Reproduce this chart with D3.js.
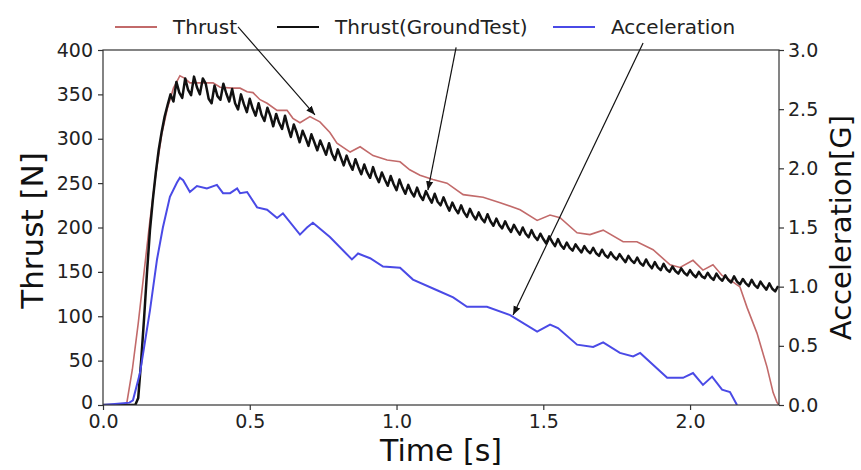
<!DOCTYPE html>
<html>
<head>
<meta charset="utf-8">
<script src="https://d3js.org/d3.v7.min.js"></script>
<style>
  body { margin: 0; background: #fff; }
  svg { font-family: "DejaVu Sans", sans-serif; }
</style>
</head>
<body>
<svg id="chart" width="861" height="470"></svg>
<script>
// Thrust from the simulation: [time s, thrust N]
var thrustSim = [
  [0, 0], [0.08, 0], [0.10, 40], [0.12, 92], [0.14, 150], [0.16, 208], [0.18, 260],
  [0.20, 305], [0.22, 335], [0.24, 357], [0.262, 371], [0.279, 368], [0.296, 363],
  [0.33, 363], [0.375, 363], [0.399, 358], [0.443, 357], [0.467, 357], [0.491, 353],
  [0.511, 352], [0.535, 344], [0.559, 340], [0.593, 332], [0.627, 332], [0.647, 323],
  [0.671, 318], [0.705, 325], [0.739, 319], [0.773, 307], [0.797, 295], [0.842, 285],
  [0.876, 291], [0.92, 281], [0.968, 276], [1.012, 274], [1.045, 265], [1.08, 259],
  [1.124, 254], [1.172, 250], [1.227, 237], [1.295, 234], [1.353, 228], [1.421, 220],
  [1.479, 208], [1.523, 214], [1.557, 211], [1.615, 194], [1.659, 192], [1.704, 197],
  [1.772, 184], [1.819, 184], [1.874, 175], [1.932, 158], [1.966, 155], [2.01, 163],
  [2.044, 152], [2.078, 158], [2.109, 146], [2.136, 141], [2.17, 133], [2.194, 110],
  [2.228, 81], [2.262, 43], [2.283, 14], [2.296, 3], [2.303, 0]
];

// Ground test thrust, one sample every 0.01 s starting at 0 s [N]
var groundStep = 0.01;
var thrustGround = [
  0, 0, 0, 0, 0, 0, 0, 0, 0, 0,
  0, 0, 8, 50, 98, 150, 197, 232, 262, 288,
  308, 325, 338, 350, 342, 364, 352, 346, 368, 355,
  349, 370, 358, 350, 368, 362, 345, 340, 360, 348,
  344, 362, 351, 342, 356, 340, 333, 350, 339, 330,
  345, 334, 326, 340, 327, 320, 335, 326, 314, 328,
  318, 311, 326, 313, 302, 316, 307, 296, 309, 301,
  292, 305, 296, 287, 298, 290, 282, 295, 283, 276,
  288, 279, 270, 281, 272, 265, 277, 268, 260, 271,
  262, 256, 268, 258, 251, 262, 254, 247, 258, 249,
  242, 254, 245, 238, 248, 240, 235, 245, 236, 231,
  241, 234, 228, 238, 229, 225, 234, 226, 219, 228,
  221, 216, 225, 217, 212, 221, 214, 209, 217, 210,
  206, 215, 207, 202, 210, 203, 199, 207, 200, 195,
  203, 197, 192, 200, 193, 189, 197, 190, 186, 193,
  187, 182, 190, 184, 179, 187, 180, 176, 183, 177,
  174, 181, 176, 172, 179, 174, 171, 177, 171, 168,
  175, 169, 166, 172, 167, 164, 170, 165, 161, 168,
  163, 160, 166, 160, 157, 164, 158, 154, 161, 155,
  152, 159, 153, 150, 156, 151, 148, 154, 149, 146,
  152, 147, 144, 150, 145, 143, 149, 144, 141, 148,
  143, 140, 146, 141, 138, 145, 139, 136, 142, 137,
  134, 141, 135, 132, 139, 134, 130, 137, 131, 128,
  134
];

// Acceleration: [time s, acceleration G]
var acceleration = [
  [0, 0], [0.05, 0.01], [0.09, 0.02], [0.102, 0.04], [0.126, 0.27], [0.16, 0.80],
  [0.184, 1.23], [0.204, 1.50], [0.228, 1.76], [0.252, 1.88], [0.262, 1.92], [0.273, 1.90],
  [0.296, 1.80], [0.32, 1.85], [0.354, 1.83], [0.388, 1.86], [0.409, 1.79], [0.433, 1.79],
  [0.457, 1.83], [0.467, 1.79], [0.491, 1.80], [0.525, 1.67], [0.559, 1.65], [0.593, 1.58],
  [0.613, 1.62], [0.671, 1.44], [0.695, 1.50], [0.715, 1.54], [0.773, 1.42], [0.848, 1.23],
  [0.869, 1.28], [0.91, 1.24], [0.954, 1.17], [1.012, 1.16], [1.056, 1.06], [1.138, 0.97],
  [1.193, 0.91], [1.24, 0.83], [1.308, 0.83], [1.387, 0.76], [1.479, 0.62], [1.523, 0.68],
  [1.55, 0.65], [1.615, 0.51], [1.67, 0.49], [1.704, 0.53], [1.761, 0.44], [1.806, 0.41],
  [1.83, 0.44], [1.922, 0.23], [1.976, 0.23], [2.01, 0.27], [2.044, 0.17], [2.075, 0.24],
  [2.109, 0.13], [2.136, 0.11], [2.16, 0.0]
];

var xTicks = [0, 0.5, 1.0, 1.5, 2.0];
var thrustTicks = [0, 50, 100, 150, 200, 250, 300, 350, 400];
var accelTicks = [0, 0.5, 1.0, 1.5, 2.0, 2.5, 3.0];

var legendLabels = ["Thrust", "Thrust(GroundTest)", "Acceleration"];
var legendColors = ["#c26a6a", "#111111", "#4a4ae6"];

// arrows: tail and tip in data units; axis says which y scale
var arrows = [
  {from: [0.46, 426], to: [0.722, 327], axis: "thrust"},
  {from: [1.203, 403], to: [1.107, 242], axis: "thrust"},
  {from: [1.84, 3.06], to: [1.397, 0.76], axis: "accel"}
];

var margin = {top: 50, right: 82, bottom: 65, left: 103},
    width = 861 - margin.left - margin.right,
    height = 470 - margin.top - margin.bottom;

var svg = d3.select("#chart");
var g = svg.append("g")
    .attr("transform", "translate(" + margin.left + "," + margin.top + ")");

var x = d3.scaleLinear().domain([0, 2.303]).range([0, width]);
var yL = d3.scaleLinear().domain([0, 400]).range([height, 0]);
var yR = d3.scaleLinear().domain([0, 3.0]).range([height, 0]);

svg.append("defs").append("clipPath").attr("id", "plotclip")
  .append("rect").attr("width", width).attr("height", height);

svg.select("defs").append("marker")
    .attr("id", "head")
    .attr("viewBox", "0 0 10 10")
    .attr("refX", 10).attr("refY", 5)
    .attr("markerWidth", 9).attr("markerHeight", 9)
    .attr("markerUnits", "userSpaceOnUse")
    .attr("orient", "auto")
  .append("path")
    .attr("d", "M0,1 L10,5 L0,9 Z")
    .attr("fill", "#111");

// lines
var plot = g.append("g").attr("clip-path", "url(#plotclip)");

var lineL = d3.line().x(d => x(d[0])).y(d => yL(d[1]));
var lineR = d3.line().x(d => x(d[0])).y(d => yR(d[1]));

plot.append("path")
    .datum(thrustSim)
    .attr("fill", "none")
    .attr("stroke", legendColors[0])
    .attr("stroke-width", 1.6)
    .attr("d", lineL);

plot.append("path")
    .datum(thrustGround.map((v, i) => [i * groundStep, v]))
    .attr("fill", "none")
    .attr("stroke", legendColors[1])
    .attr("stroke-width", 2.5)
    .attr("stroke-linejoin", "round")
    .attr("d", lineL);

plot.append("path")
    .datum(acceleration)
    .attr("fill", "none")
    .attr("stroke", legendColors[2])
    .attr("stroke-width", 2)
    .attr("d", lineR);

// frame
g.append("rect")
    .attr("width", width).attr("height", height)
    .attr("fill", "none")
    .attr("stroke", "#333")
    .attr("stroke-width", 1.2);

// axes
var fontTick = "19px";

var xAxis = g.append("g")
    .attr("transform", "translate(0," + height + ")")
    .call(d3.axisBottom(x).tickValues(xTicks).tickFormat(d3.format(".1f")).tickSizeOuter(0).tickSize(5).tickPadding(5));

var leftAxis = g.append("g")
    .call(d3.axisLeft(yL).tickValues(thrustTicks).tickSizeOuter(0).tickSize(5).tickPadding(5));

var rightAxis = g.append("g")
    .attr("transform", "translate(" + width + ",0)")
    .call(d3.axisRight(yR).tickValues(accelTicks).tickFormat(d3.format(".1f")).tickSizeOuter(0).tickSize(5).tickPadding(4));

[xAxis, leftAxis, rightAxis].forEach(function(a) {
  a.select(".domain").remove();
  a.selectAll(".tick line").attr("stroke", "#333").attr("stroke-width", 1.2);
  a.selectAll(".tick text")
      .attr("fill", "#222")
      .style("font-size", fontTick)
      .style("font-family", "DejaVu Sans");
});
// the lowest left label sits a touch higher so it clears "0.0" below it
leftAxis.selectAll(".tick text").filter(d => d === 0).attr("dy", "0.2em");

// axis titles
g.append("text")
    .attr("x", width / 2).attr("y", height + 56)
    .attr("text-anchor", "middle")
    .attr("fill", "#111")
    .style("font-size", "30px")
    .text("Time [s]");

g.append("text")
    .attr("transform", "translate(" + (-60) + "," + (height / 2 + 3) + ") rotate(-90)")
    .attr("text-anchor", "middle")
    .attr("fill", "#111")
    .style("font-size", "31px")
    .text("Thrust [N]");

g.append("text")
    .attr("transform", "translate(" + (width + 72) + "," + (height / 2) + ") rotate(-90)")
    .attr("text-anchor", "middle")
    .attr("fill", "#111")
    .style("font-size", "29px")
    .text("Acceleration[G]");

// legend (no frame, above the plot)
var legendX = [115, 277, 553];
var legend = svg.append("g");
legendLabels.forEach(function(lbl, i) {
  legend.append("line")
      .attr("x1", legendX[i]).attr("x2", legendX[i] + 42)
      .attr("y1", 27).attr("y2", 27)
      .attr("stroke", legendColors[i])
      .attr("stroke-width", i === 1 ? 2.2 : 2);
  legend.append("text")
      .attr("x", legendX[i] + 58).attr("y", 34)
      .attr("fill", "#222")
      .style("font-size", "20px")
      .text(lbl);
});

// annotation arrows
arrows.forEach(function(a) {
  var ys = a.axis === "thrust" ? yL : yR;
  g.append("line")
      .attr("x1", x(a.from[0])).attr("y1", ys(a.from[1]))
      .attr("x2", x(a.to[0])).attr("y2", ys(a.to[1]))
      .attr("stroke", "#111")
      .attr("stroke-width", 1.2)
      .attr("marker-end", "url(#head)");
});
</script>
</body>
</html>
